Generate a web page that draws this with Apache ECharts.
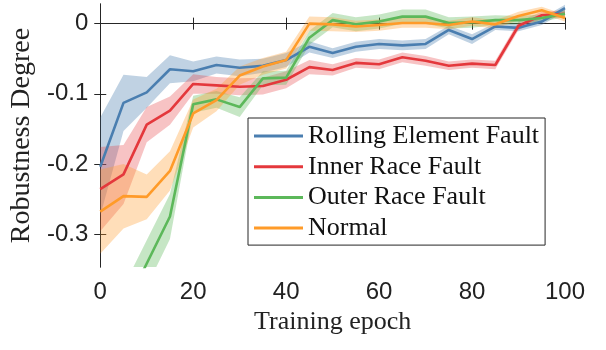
<!DOCTYPE html>
<html>
<head>
<meta charset="utf-8">
<script src="https://cdn.jsdelivr.net/npm/echarts@6/dist/echarts.min.js"></script>
<style>html,body{margin:0;padding:0;background:#fff}#c{width:606px;height:350px}</style>
</head>
<body>
<div id="c"></div>
<script>
const epochs = [0,5,10,15,20,25,30,35,40,45,50,55,60,65,70,75,80,85,90,95,100];
const xTicks = [0,20,40,60,80,100];
const yTicks = [-0.3,-0.2,-0.1,0];

const rollingMean = [-0.204,-0.113,-0.098,-0.065,-0.068,-0.059,-0.063,-0.060,-0.052,-0.033,-0.042,-0.033,-0.029,-0.031,-0.029,-0.009,-0.022,-0.004,-0.006,0.003,0.022];
const rollingSpread = [0.07,0.04,0.022,0.02,0.014,0.012,0.012,0.01,0.01,0.008,0.007,0.007,0.007,0.007,0.007,0.006,0.007,0.005,0.005,0.005,0.005];

const innerMean = [-0.236,-0.215,-0.144,-0.124,-0.086,-0.088,-0.090,-0.089,-0.080,-0.062,-0.066,-0.056,-0.058,-0.048,-0.053,-0.060,-0.057,-0.059,-0.003,0.012,0.014];
const innerSpread = [0.06,0.042,0.025,0.02,0.014,0.012,0.012,0.012,0.012,0.01,0.008,0.007,0.007,0.007,0.007,0.006,0.006,0.006,0.006,0.005,0.005];

const outerMean = [-0.47,-0.41,-0.342,-0.275,-0.115,-0.108,-0.119,-0.078,-0.077,-0.020,0.005,-0.001,0.003,0.010,0.010,0.001,0.002,0.005,0.005,0.008,0.014];
const outerSpread = [0.035,0.035,0.033,0.032,0.012,0.012,0.014,0.01,0.01,0.01,0.01,0.01,0.01,0.01,0.01,0.008,0.008,0.007,0.006,0.005,0.005];

const normalMean = [-0.268,-0.246,-0.247,-0.210,-0.128,-0.109,-0.074,-0.061,-0.052,0.000,-0.001,-0.004,-0.002,0.001,0.001,-0.002,0.003,-0.001,0.011,0.019,0.008];
const normalSpread = [0.06,0.046,0.032,0.028,0.02,0.016,0.013,0.012,0.012,0.01,0.01,0.008,0.008,0.007,0.007,0.006,0.006,0.006,0.006,0.005,0.005];

const names = ['Rolling Element Fault','Inner Race Fault','Outer Race Fault','Normal'];
const colors = ['#4a7eb0','#e4383c','#5cb85a','#ff9b29'];
const bandColors = ['rgba(74,126,176,0.35)','rgba(228,56,60,0.3)','rgba(92,184,90,0.35)','rgba(255,155,41,0.33)'];
const means = [rollingMean, innerMean, outerMean, normalMean];
const spreads = [rollingSpread, innerSpread, outerSpread, normalSpread];

const series = [];
means.forEach((m, k) => {
  const s = spreads[k];
  const bandData = epochs.map((e, i) => [e, m[i] - s[i], m[i] + s[i]]);
  series.push({
    type: 'custom', name: 'band-' + k, silent: true, z: 1, clip: true,
    data: bandData,
    encode: { x: 0, y: [1, 2] },
    renderItem: function (params, api) {
      if (params.dataIndex !== 0) return null;
      const upper = bandData.map(d => api.coord([d[0], d[2]]));
      const lower = bandData.map(d => api.coord([d[0], d[1]])).reverse();
      const cs = params.coordSys;
      return {
        type: 'polygon',
        shape: { points: upper.concat(lower) },
        style: { fill: bandColors[k], stroke: null },
        clipPath: { type: 'rect', shape: { x: cs.x, y: cs.y, width: cs.width, height: cs.height } }
      };
    }
  });
});
means.forEach((m, k) => {
  series.push({
    type: 'line', name: names[k],
    data: epochs.map((e, i) => [e, m[i]]),
    symbol: 'none', color: colors[k],
    lineStyle: { color: colors[k], width: 2.6 }, z: 3
  });
});

const axisColor = '#262626';
const yMin = -0.347, yMax = 0.028;
const chart = echarts.init(document.getElementById('c'), null, { renderer: 'canvas' });
chart.setOption({
  animation: false,
  backgroundColor: '#fff',
  grid: { left: 100, right: 41, top: 4, bottom: 83, containLabel: false },
  xAxis: [{
    type: 'value', min: 0, max: 100, interval: 20, position: 'bottom',
    name: 'Training epoch', nameLocation: 'middle', nameGap: 27,
    nameTextStyle: { fontFamily: 'Liberation Serif', fontSize: 26, color: '#222' },
    axisLine: { show: true, lineStyle: { color: axisColor, width: 1 } },
    axisTick: { show: true, inside: true, length: 6, lineStyle: { color: axisColor } },
    axisLabel: { fontFamily: 'Liberation Sans', fontSize: 24, color: '#222', margin: 13 },
    splitLine: { show: false }
  }, {
    type: 'value', min: 0, max: 100, interval: 20, position: 'top',
    axisLine: { show: true, lineStyle: { color: axisColor, width: 1 } },
    axisTick: { show: true, inside: true, length: 6, lineStyle: { color: axisColor } },
    axisLabel: { show: false }, splitLine: { show: false }
  }],
  yAxis: [{
    type: 'value', min: yMin, max: yMax, position: 'left',
    name: 'Robustness Degree', nameLocation: 'middle', nameGap: 57, nameRotate: 90,
    nameTextStyle: { fontFamily: 'Liberation Serif', fontSize: 28, color: '#222' },
    axisLine: { show: true, lineStyle: { color: axisColor, width: 1 } },
    axisTick: { show: true, inside: true, length: 6, customValues: yTicks, lineStyle: { color: axisColor } },
    axisLabel: { fontFamily: 'Liberation Sans', fontSize: 24, color: '#222', margin: 12, customValues: yTicks,
      formatter: v => String(Math.round(v * 10) / 10) },
    splitLine: { show: false }
  }, {
    type: 'value', min: yMin, max: yMax, position: 'right',
    axisLine: { show: true, lineStyle: { color: axisColor, width: 1 } },
    axisTick: { show: true, inside: true, length: 6, customValues: yTicks, lineStyle: { color: axisColor } },
    axisLabel: { show: false }, splitLine: { show: false }
  }],
  legend: {
    data: names.map((n, k) => ({ name: n, icon: 'rect', itemStyle: { color: colors[k] } })),
    orient: 'vertical', align: 'left', left: 248, top: 118,
    padding: [5, 6, 4, 6], itemGap: 4.7, itemWidth: 49, itemHeight: 3,
    backgroundColor: '#fff', borderColor: axisColor, borderWidth: 1, borderRadius: 0,
    textStyle: { fontFamily: 'Liberation Serif', fontSize: 26, color: '#111', lineHeight: 26 }
  },
  series: series
});
</script>
</body>
</html>
